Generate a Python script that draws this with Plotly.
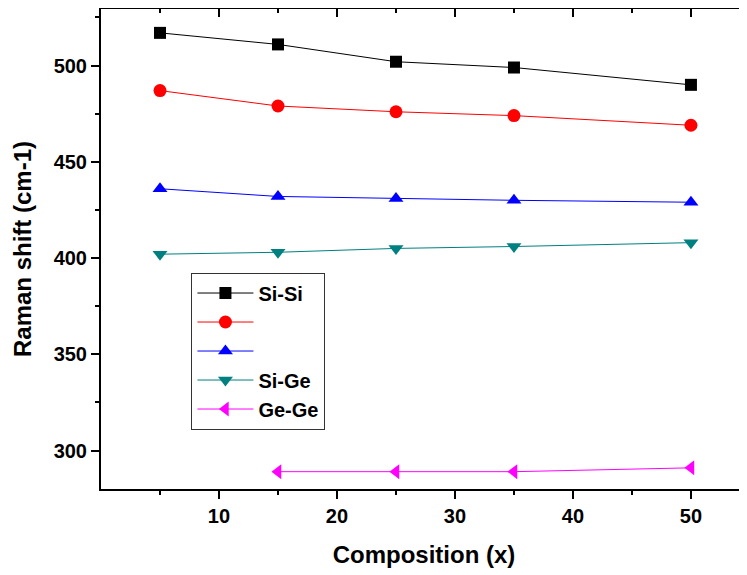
import plotly.graph_objects as go

composition = [5, 15, 25, 35, 50]
si_si = [517, 511, 502, 499, 490]
red_series = [487, 479, 476, 474, 469]
blue_series = [436, 432, 431, 430, 429]
si_ge = [402, 403, 405, 406, 408]
ge_comp = [15, 25, 35, 50]
ge_ge = [289, 289, 289, 291]

x_range = [0, 54.75]
y_range = [280, 529.4]
font_family = "Liberation Sans, Arial, sans-serif"

fig = go.Figure()

series = [
    ("Si-Si", composition, si_si, "#000000", "square", 12),
    ("", composition, red_series, "#FF0000", "circle", 13),
    ("", composition, blue_series, "#0000FF", "triangle-up", 13),
    ("Si-Ge", composition, si_ge, "#008080", "triangle-down", 13),
    ("Ge-Ge", ge_comp, ge_ge, "#FF00FF", "triangle-left", 13),
]
for name, xs, ys, color, sym, sz in series:
    fig.add_trace(go.Scatter(
        x=xs, y=ys, name=name, mode="lines+markers",
        line=dict(color=color, width=1),
        marker=dict(symbol=sym, size=sz, color=color),
    ))

# dummy trace for mirrored axes
fig.add_trace(go.Scatter(x=[], y=[], xaxis="x2", yaxis="y2", showlegend=False, hoverinfo="skip"))

tickfont = dict(family=font_family, size=20, color="#000000", weight=700)
titlefont = dict(family=font_family, size=24, color="#000000", weight=700)

fig.update_layout(
    width=739, height=567,
    margin=dict(l=93, r=0, t=1, b=86),
    paper_bgcolor="white", plot_bgcolor="white",
    showlegend=True,
    xaxis=dict(
        range=x_range, showgrid=False, zeroline=False,
        showline=True, linecolor="black", linewidth=2,
        ticks="outside", ticklen=8, tickwidth=2, tickcolor="black",
        tickmode="array", tickvals=[10, 20, 30, 40, 50],
        minor=dict(tickmode="array", tickvals=[5, 15, 25, 35, 45], ticks="outside", ticklen=4, tickwidth=2, tickcolor="black"),
        tickfont=tickfont,
        title=dict(text="Composition (x)", font=titlefont, standoff=20),
    ),
    yaxis=dict(
        range=y_range, showgrid=False, zeroline=False,
        showline=True, linecolor="black", linewidth=2,
        ticks="outside", ticklen=8, tickwidth=2, tickcolor="black",
        tickmode="array", tickvals=[300, 350, 400, 450, 500],
        minor=dict(tickmode="array", tickvals=[325, 375, 425, 475, 525], ticks="outside", ticklen=4, tickwidth=2, tickcolor="black"),
        tickfont=tickfont,
        title=dict(text="Raman shift (cm-1)", font=titlefont, standoff=15),
    ),
    xaxis2=dict(
        overlaying="x", side="top", anchor="y", range=x_range,
        showgrid=False, zeroline=False,
        showline=True, linecolor="black", linewidth=2,
        ticks="inside", ticklen=8, tickwidth=2, tickcolor="black",
        tickmode="array", tickvals=[10, 20, 30, 40, 50],
        minor=dict(tickmode="array", tickvals=[5, 15, 25, 35, 45], ticks="inside", ticklen=4, tickwidth=2, tickcolor="black"),
        showticklabels=False,
    ),
    yaxis2=dict(
        overlaying="y", side="right", anchor="x", range=y_range,
        showgrid=False, zeroline=False, showline=False,
        ticks="inside", ticklen=5, tickwidth=2, tickcolor="black",
        tickmode="array", tickvals=[300, 350, 400, 450, 500],
        minor=dict(tickmode="array", tickvals=[325, 375, 425, 475, 525], ticks="inside", ticklen=1, tickwidth=2, tickcolor="black"),
        showticklabels=False,
    ),
    legend=dict(
        x=0.14, y=0.451, xanchor="left", yanchor="top",
        bgcolor="white", bordercolor="#333333", borderwidth=1,
        font=dict(family=font_family, size=20, color="#000000", weight=700),
        itemwidth=56, tracegroupgap=0,
    ),
)

fig.write_html("out.html")
